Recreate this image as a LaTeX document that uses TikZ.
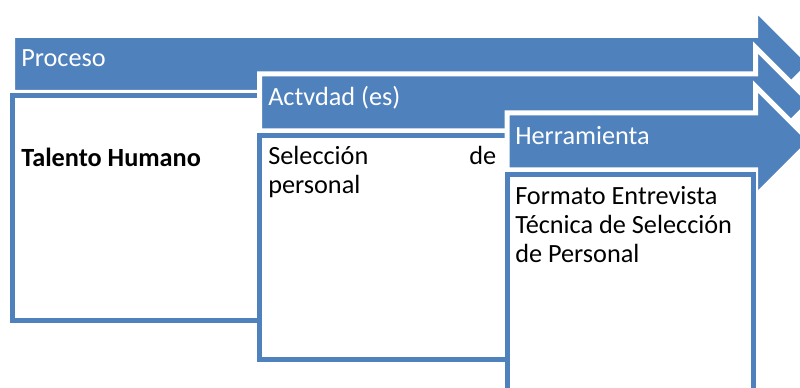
\documentclass[tikz,border=0pt]{standalone}
\usepackage{fontspec}
\setmainfont{Carlito}
\definecolor{accentblue}{HTML}{4F81BD}
\newcommand{\diagfont}{\fontsize{19.7pt}{21.75pt}\selectfont}
% band with arrow head: left x, middle y
\newcommand{\procband}[2]{%
  \filldraw[arrowband] (#1,#2-28.5) -- (755.5,#2-28.5) -- (755.5,#2-55)
    -- (810.5,#2) -- (755.5,#2+55) -- (755.5,#2+28.5) -- (#1,#2+28.5) -- cycle;}

\begin{document}
\begin{tikzpicture}[x=0.75pt, y=-0.75pt,
    arrowband/.style={fill=accentblue, draw=white, line width=3.75pt, line join=miter},
    cardbox/.style={fill=white, draw=accentblue, line width=3.75pt},
    headtext/.style={anchor=base west, inner sep=0pt, text=white, font=\diagfont},
    bodytext/.style={anchor=base west, inner sep=0pt, align=flush left, font=\diagfont}]
        \useasboundingbox (0,0) rectangle (800,388);
        \clip (0,0) rectangle (800,388);

        % Proceso
        \procband{12.5}{64}
        \draw[cardbox] (12.5,95.5) rectangle (259.5,321);

        % Actividad
        \procband{259.5}{102.5}
        \draw[cardbox] (259.5,135.5) rectangle (507,359.5);

        % Herramienta
        \procband{507}{141.5}
        \draw[cardbox] (507,174.5) rectangle (753,400);

        % Titles on the bands
        \node[headtext] (proceso) at (21,67) {Proceso};
        \node[headtext] (actividad) at (268,106) {Actvdad (es)};
        \node[headtext] (herramienta) at (515,145) {Herramienta};

        % Contents of the cards
        \node[bodytext, font=\diagfont\bfseries] (talento) at (21,167) {Talento Humano};
        \node[bodytext, text width=171pt] (seleccion) at (268,165)
        {Selección \hfill de\\personal};
        \node[bodytext, text width=172pt] (formato) at (515,205)
        {Formato Entrevista\\Técnica de Selección\\de Personal};
    \end{tikzpicture}
\end{document}
